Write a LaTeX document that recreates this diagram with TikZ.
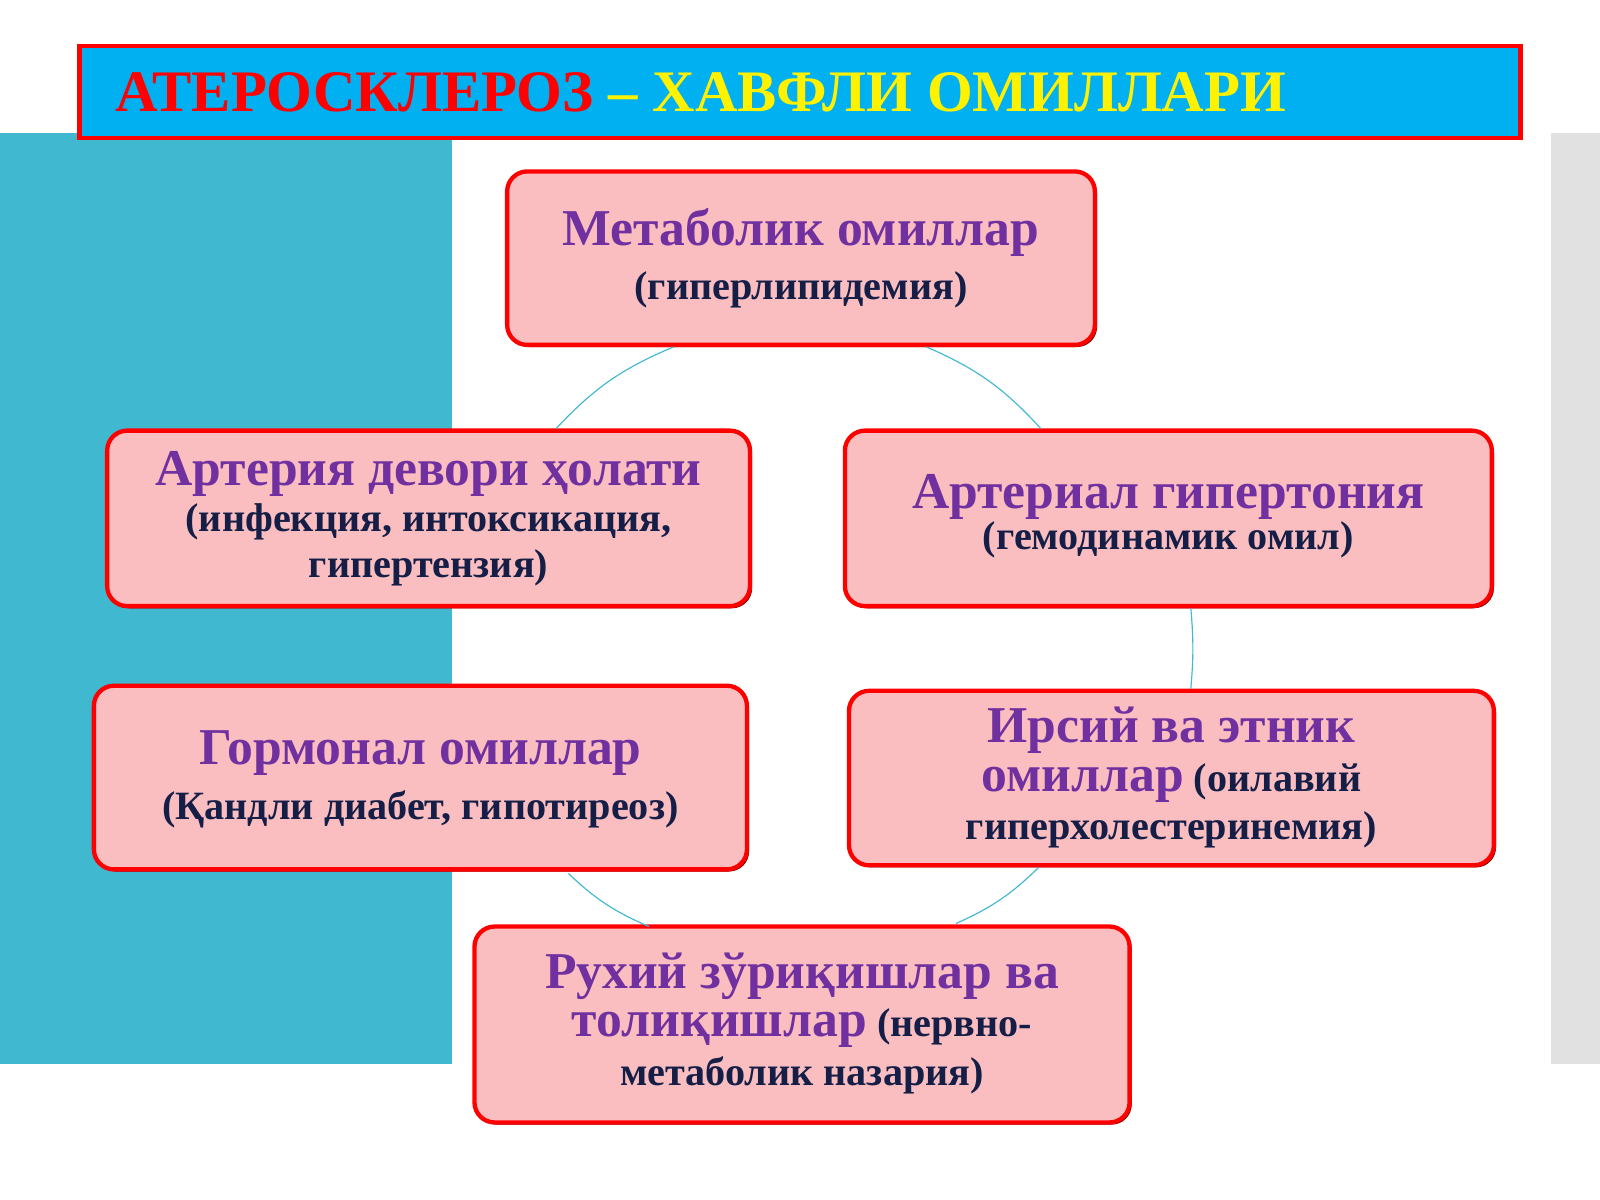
\documentclass[tikz,border=0pt]{standalone}
\usepackage{fontspec}
\setmainfont{Liberation Serif}
\usetikzlibrary{shadows}
\definecolor{teal1}{RGB}{64,184,208}
\definecolor{cyanT}{RGB}{0,176,240}
\definecolor{pinkF}{RGB}{250,190,192}
\definecolor{purp}{RGB}{112,48,160}
\definecolor{navy}{RGB}{20,30,70}
\definecolor{greyR}{RGB}{225,225,225}
\begin{document}
\begin{tikzpicture}[x=0.025cm,y=-0.025cm,
 box/.style={draw=red,line width=3pt,fill=pinkF,rounded corners=14pt,
   drop shadow={shadow xshift=1.5pt,shadow yshift=-1.5pt,fill=red!45!black,opacity=1}},
 conn/.style={draw=teal1,line width=0.8pt},
 lbl/.style={align=center,font=\bfseries,text=navy}]
\useasboundingbox (0,0) rectangle (1568,1176);
\fill[white] (0,0) rectangle (1568,1176);
\fill[teal1] (0,130) rectangle (443,1043);
\fill[greyR] (1520,130) rectangle (1568,1043);
\draw[red,line width=3pt,fill=cyanT] (78,45) rectangle (1490,135);
\node[anchor=west,font=\fontsize{41}{45}\selectfont\bfseries] (title) at (108,90)
 {\textcolor{red}{АТЕРОСКЛЕРОЗ} \textcolor{yellow}{– ХАВФЛИ ОМИЛЛАРИ}};
\path[box] (497,168) rectangle (1073,338);
\path[box] (105,422) rectangle (735,594);
\path[box] (828,422) rectangle (1462,594);
\path[box] (92,672) rectangle (732,852);
\path[box] (832,677) rectangle (1464,848);
\path[box] (465,908) rectangle (1107,1100);
\coordinate (a1) at (660,340); \coordinate (a2) at (545,420);
\coordinate (b1) at (908,340); \coordinate (b2) at (1020,420);
\coordinate (c1) at (1167,596); \coordinate (c2) at (1167,675);
\coordinate (d1) at (557,856); \coordinate (d2) at (636,908);
\coordinate (e1) at (1018,850); \coordinate (e2) at (937,905);
\draw[conn] (a1) to[bend right=12] (a2);
\draw[conn] (b1) to[bend left=12] (b2);
\draw[conn] (c1) to[bend left=5] (c2);
\draw[conn] (d1) to[bend right=10] (d2);
\draw[conn] (e1) to[bend left=10] (e2);
\node[lbl] (m) at (785,253) {{\fontsize{36}{40}\selectfont\textcolor{purp}{Метаболик омиллар}}\\[10pt]{\fontsize{28}{32}\selectfont (гиперлипидемия)}};
\node[lbl,font=\fontsize{28}{32}\selectfont\bfseries] (ad) at (420,508) {{\fontsize{36}{40}\selectfont\textcolor{purp}{Артерия девори ҳолати}}\\(инфекция, интоксикация,\\гипертензия)};
\node[lbl] (ag) at (1145,506) {{\fontsize{36}{40}\selectfont\textcolor{purp}{Артериал гипертония}}\\{\fontsize{28}{32}\selectfont (гемодинамик омил)}};
\node[lbl] (g) at (412,764) {{\fontsize{36}{40}\selectfont\textcolor{purp}{Гормонал омиллар}}\\[10pt]{\fontsize{28}{32}\selectfont (Қандли диабет, гипотиреоз)}};
\node[lbl,font=\fontsize{28}{34}\selectfont\bfseries] (ir) at (1148,762) {{\fontsize{36}{40}\selectfont\textcolor{purp}{Ирсий ва этник}}\\{\fontsize{36}{40}\selectfont\textcolor{purp}{омиллар}} (оилавий\\гиперхолестеринемия)};
\node[lbl,font=\fontsize{28}{34}\selectfont\bfseries] (r) at (786,1003) {{\fontsize{36}{40}\selectfont\textcolor{purp}{Рухий зўриқишлар ва}}\\{\fontsize{36}{40}\selectfont\textcolor{purp}{толиқишлар}} (нервно-\\метаболик назария)};
\end{tikzpicture}
\end{document}
